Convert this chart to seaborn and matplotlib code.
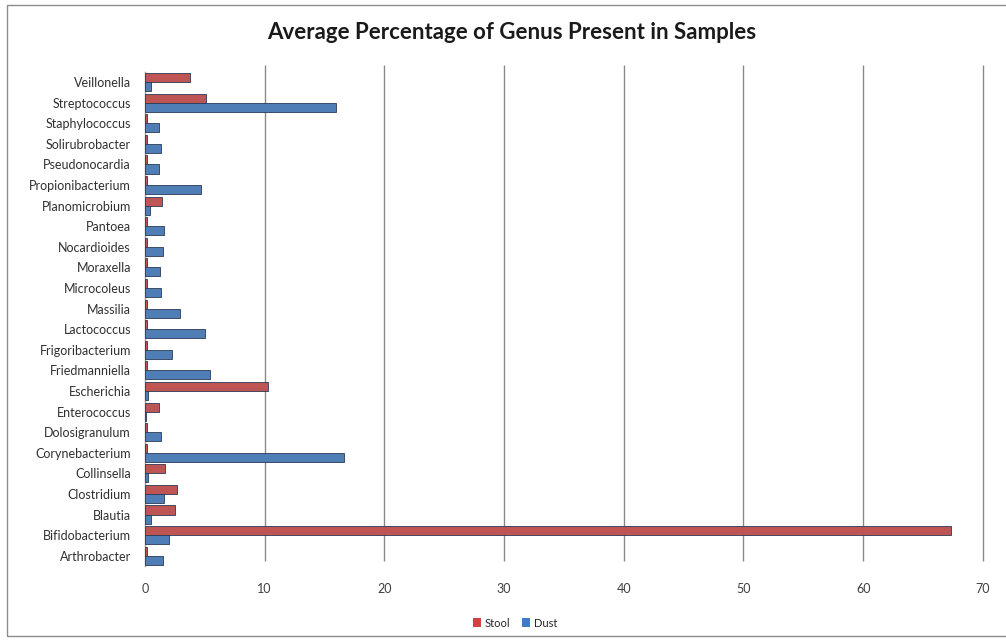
import matplotlib
matplotlib.use("Agg")
import matplotlib.pyplot as plt
import matplotlib.patches as mpatches
import seaborn as sns
import pandas as pd

genera = [
    "Veillonella", "Streptococcus", "Staphylococcus", "Solirubrobacter",
    "Pseudonocardia", "Propionibacterium", "Planomicrobium", "Pantoea",
    "Nocardioides", "Moraxella", "Microcoleus", "Massilia", "Lactococcus",
    "Frigoribacterium", "Friedmanniella", "Escherichia", "Enterococcus",
    "Dolosigranulum", "Corynebacterium", "Collinsella", "Clostridium",
    "Blautia", "Bifidobacterium", "Arthrobacter",
]
stool = [3.8, 5.1, 0.2, 0.2, 0.2, 0.2, 1.4, 0.2, 0.2, 0.2, 0.2, 0.2, 0.2,
         0.2, 0.2, 10.3, 1.2, 0.2, 0.2, 1.7, 2.7, 2.5, 67.3, 0.2]
dust = [0.5, 16.0, 1.2, 1.35, 1.2, 4.7, 0.4, 1.6, 1.5, 1.25, 1.35, 2.9, 5.0,
        2.25, 5.4, 0.3, 0.1, 1.35, 16.6, 0.3, 1.6, 0.5, 2.0, 1.5]
series = ["Stool", "Dust"]
colors = ["#CF4443", "#3E7CC7"]
xticks = [0, 10, 20, 30, 40, 50, 60, 70]

df = pd.DataFrame({
    "Genus": genera * 2,
    "Percent": stool + dust,
    "Sample": [series[0]] * len(genera) + [series[1]] * len(genera),
})

sns.set_theme(style="white")
plt.rcParams["font.family"] = ["Lato", "DejaVu Sans"]

fig = plt.figure(figsize=(10.06, 6.41), dpi=100)
ax = fig.add_axes([0.144, 0.117, 0.833, 0.771])

sns.barplot(
    data=df, y="Genus", x="Percent", hue="Sample", order=genera,
    hue_order=series, palette=colors, orient="h", width=0.88,
    edgecolor="#2a3a55", linewidth=0.6, ax=ax, legend=False, zorder=3,
)

ax.set_xlim(0, 70)
ax.set_ylim(len(genera) - 0.5, -0.5)
ax.set_xticks(xticks)
ax.set_xticklabels([str(t) for t in xticks], fontsize=9, color="#404040")
ax.tick_params(axis="x", pad=12, length=0)
ax.tick_params(axis="y", pad=10, length=0, labelsize=9, labelcolor="#303030")
ax.set_xlabel("")
ax.set_ylabel("")
for side in ["top", "right", "bottom"]:
    ax.spines[side].set_visible(False)
ax.spines["left"].set_color("#9a9a9a")
ax.spines["left"].set_linewidth(1.0)

# vertical gridlines reaching a little above the first category
ax.vlines(xticks[1:], len(genera) - 0.75, -0.85, colors="#8a8a8a",
          linewidth=1.0, clip_on=False, zorder=1)

fig.suptitle("Average Percentage of Genus Present in Samples",
             fontsize=16, fontweight="bold", x=0.509, y=0.966, color="#1a1a1a")

handles = [mpatches.Patch(facecolor=c, edgecolor="none", label=s)
           for c, s in zip(colors, series)]
fig.legend(handles=handles, loc="center", bbox_to_anchor=(0.512, 0.028),
           ncol=2, frameon=False, fontsize=8, handlelength=0.7,
           handleheight=0.9, handletextpad=0.4, columnspacing=1.0)

border = mpatches.Rectangle((0.007, 0.008), 0.995, 0.984, transform=fig.transFigure,
                            fill=False, edgecolor="#8c8c8c", linewidth=1.0)
fig.patches.append(border)

fig.savefig("out.png", dpi=100)
